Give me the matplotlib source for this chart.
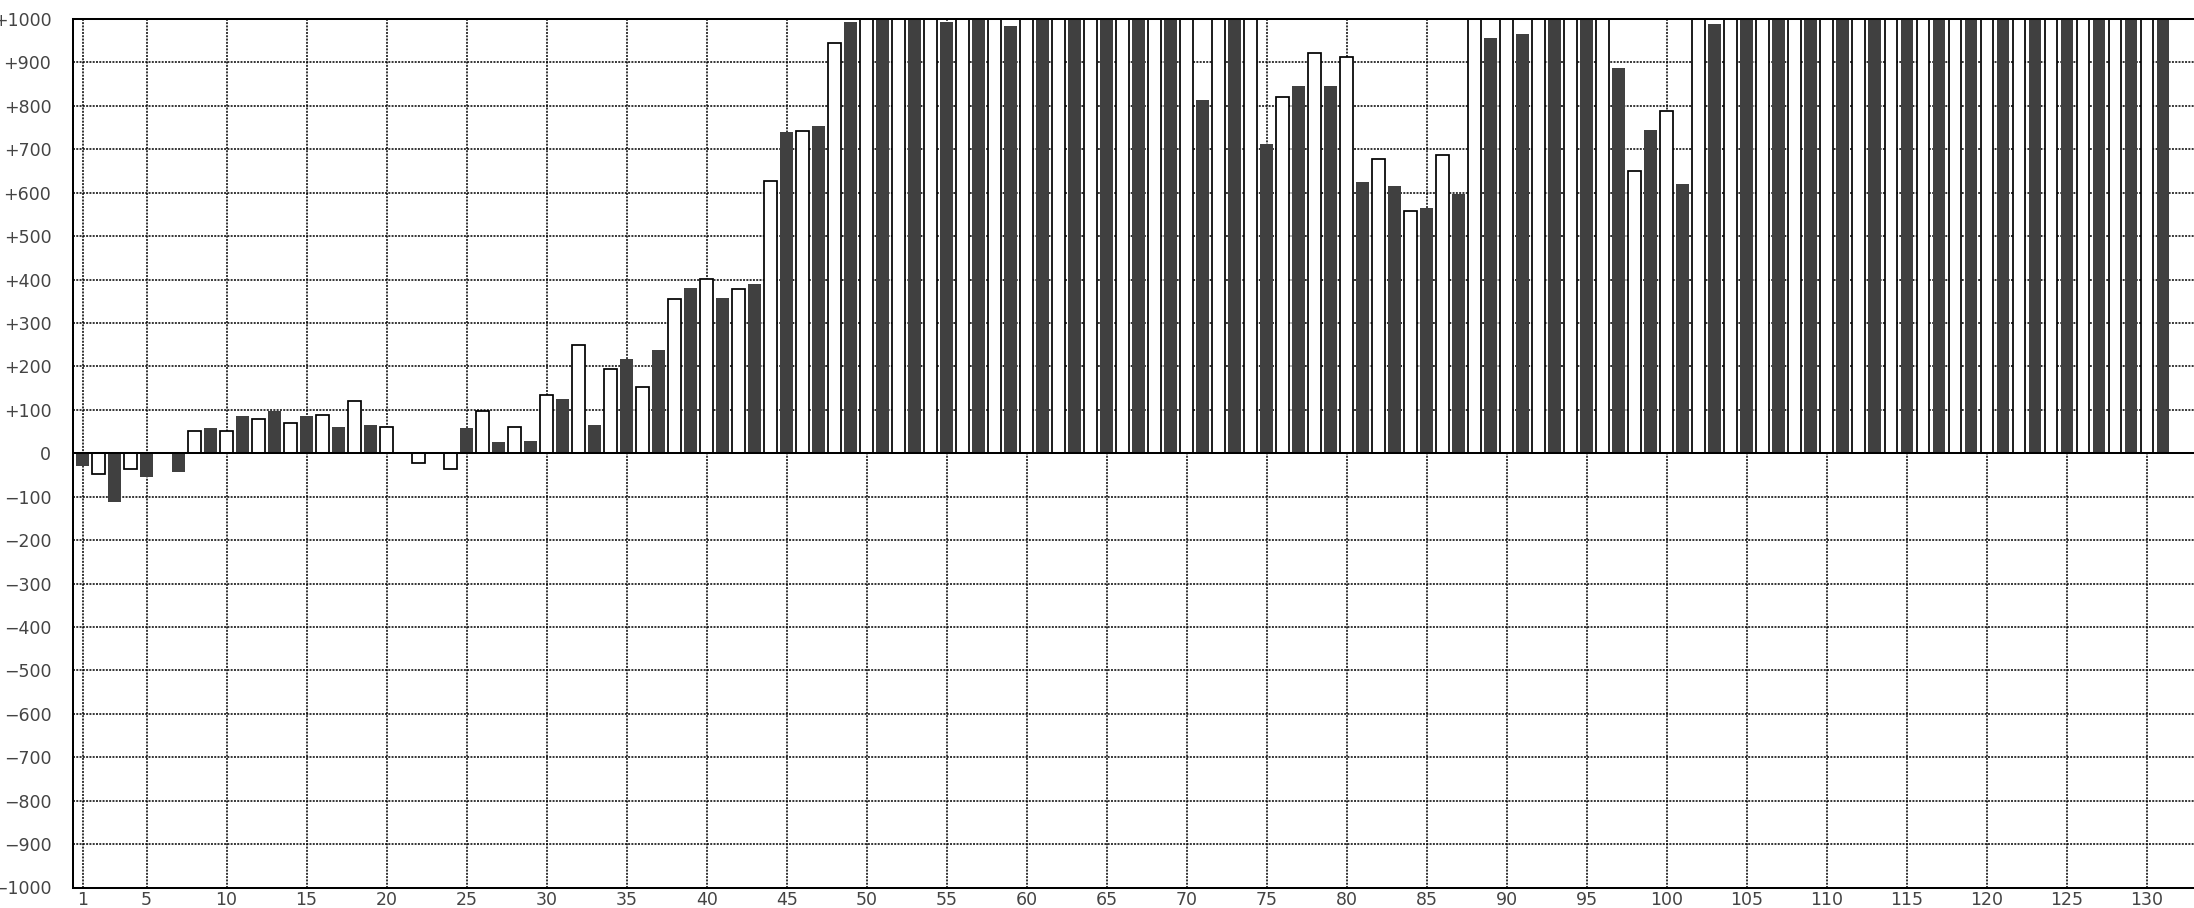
"""Столбчатая диаграмма отклонений по 131 позиции (чёрные/белые столбцы)."""
import matplotlib
matplotlib.use("Agg")
import matplotlib.pyplot as plt
import numpy as np
from matplotlib.ticker import FixedLocator, FuncFormatter

# ── Данные ──
# Нечётные позиции (1, 3, ..., 131) — тёмные столбцы.
# 1000 = значение упирается в верх шкалы (столбец обрезан рамкой).
dark_vals = [
    -30, -113, -54, -44, 57, 85, 98, 85, 61, 66,        # 1..19
    0, 0, 57, 25, 29, 126, 66, 218, 237, 380,           # 21..39
    357, 389, 739, 753, 993, 1000, 1000, 993, 1000, 984, # 41..59
    1000, 1000, 1000, 1000, 1000, 813, 1000, 712, 845, 845,  # 61..79
    624, 615, 564, 596, 956, 965, 1000, 1000, 887, 744,  # 81..99
    620, 988, 1000, 1000, 1000, 1000, 1000, 1000, 1000, 1000,  # 101..119
    1000, 1000, 1000, 1000, 1000, 1000,                  # 121..131
]
# Чётные позиции (2, 4, ..., 130) — белые столбцы с чёрной обводкой.
white_vals = [
    -47, -37, 0, 51, 51, 78, 69, 88, 120, 60,           # 2..20
    -23, -37, 97, 60, 134, 249, 194, 152, 355, 401,     # 22..40
    378, 627, 742, 945, 1000, 1000, 1000, 1000, 1000, 1000,  # 42..60
    1000, 1000, 1000, 1000, 1000, 1000, 1000, 821, 922, 913,  # 62..80
    678, 558, 687, 1000, 1000, 1000, 1000, 1000, 650, 789,    # 82..100
    1000, 1000, 1000, 1000, 1000, 1000, 1000, 1000, 1000, 1000,  # 102..120
    1000, 1000, 1000, 1000, 1000,                        # 122..130
]
x_ticks = [1, 5, 10, 15, 20, 25, 30, 35, 40, 45, 50, 55, 60, 65, 70, 75,
           80, 85, 90, 95, 100, 105, 110, 115, 120, 125, 130]
y_ticks = list(range(-1000, 1001, 100))

# ── Фигура: 2194x908 px ──
W, H, DPI = 2194, 908, 100
fig = plt.figure(figsize=(W / DPI, H / DPI), dpi=DPI)
fig.patch.set_facecolor("white")

# рамка: левая граница x=72.8px, верх 19px, низ 887.5px; справа уходит за край
left = 72.8 / W
bottom = 1 - 887.5 / H
top = 1 - 19 / H
ax = fig.add_axes([left, bottom, 1 - left, top - bottom])

dark_x = np.arange(1, 2 * len(dark_vals), 2)
white_x = np.arange(2, 2 * len(white_vals) + 1, 2)

ax.bar(dark_x, dark_vals, width=0.8, color="#404040", linewidth=0, zorder=3)
ax.bar(white_x, white_vals, width=0.8, color="white", edgecolor="black",
       linewidth=1.25, zorder=3)

# нулевая линия
ax.axhline(0, color="black", linewidth=1.45, zorder=4)

ax.set_xlim(0.39, 132.94)
ax.set_ylim(-1000, 1000)

# ── Сетка: жирные точки, под столбцами ──
ax.xaxis.set_major_locator(FixedLocator(x_ticks))
ax.yaxis.set_major_locator(FixedLocator(y_ticks))
grid_kw = dict(color="black", linewidth=1.1, dashes=(1.3, 0.85), zorder=1)
for xt in x_ticks:
    ax.axvline(xt, **grid_kw)
for yt in y_ticks:
    if yt not in (0, -1000, 1000):
        ax.axhline(yt, **grid_kw)
ax.set_axisbelow(True)


def _fmt_y(v, _pos):
    v = int(round(v))
    if v > 0:
        return f"+{v}"
    if v < 0:
        return f"\u2212{abs(v)}"
    return "0"


ax.yaxis.set_major_formatter(FuncFormatter(_fmt_y))
ax.tick_params(axis="y", length=0, pad=15.5, labelsize=12.5,
               labelcolor="#444444")
ax.tick_params(axis="x", length=0, pad=2.5, labelsize=12.5,
               labelcolor="#444444")

for name, s in ax.spines.items():
    s.set_color("black")
    s.set_linewidth(1.45)
    s.set_zorder(5)
ax.spines["right"].set_visible(False)

fig.savefig("out.png", dpi=DPI, facecolor="white")
plt.close(fig)
